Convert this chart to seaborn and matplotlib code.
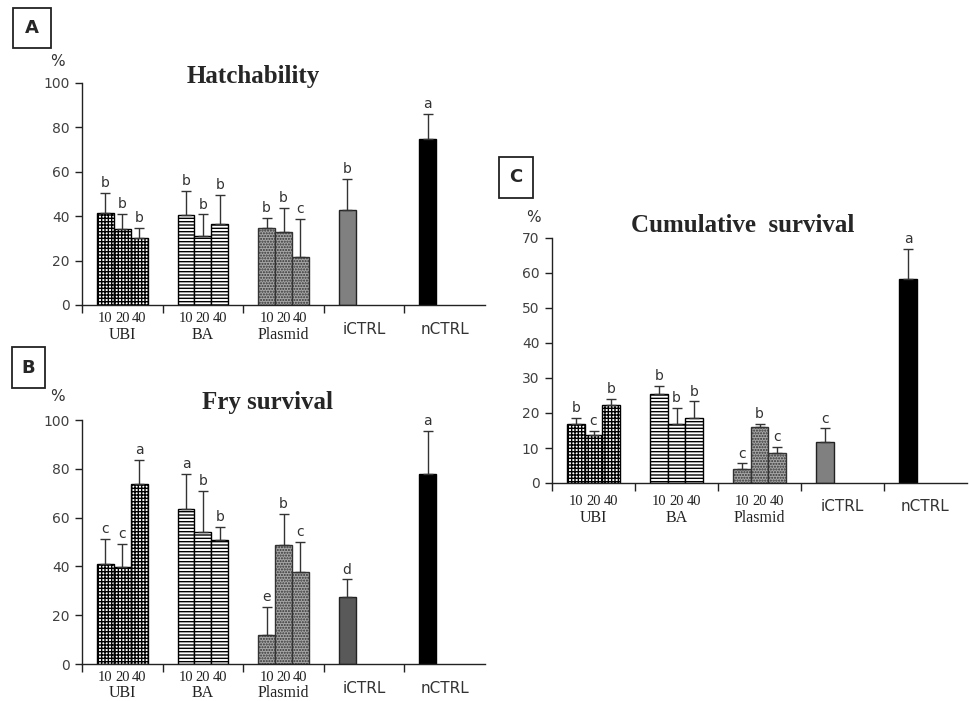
import matplotlib.pyplot as plt
import matplotlib.patches as mpatches
import numpy as np
import pandas as pd
import seaborn as sns

groups = ["UBI", "BA", "Plasmid", "iCTRL", "nCTRL"]
doses = ["10", "20", "40"]

# one entry per bar: UBI 10/20/40, BA 10/20/40, Plasmid 10/20/40, iCTRL, nCTRL
bar_group = ["UBI"] * 3 + ["BA"] * 3 + ["Plasmid"] * 3 + ["iCTRL", "nCTRL"]
bar_dose = doses * 3 + ["10", "10"]

hatch_mean = [41.6, 34.2, 30.3, 40.4, 31.2, 36.5, 34.6, 33.0, 21.6, 42.8, 74.6]
hatch_sd = [9.0, 6.8, 4.5, 10.9, 9.6, 13.0, 4.6, 10.8, 17.2, 14.0, 11.4]
hatch_sig = ["b", "b", "b", "b", "b", "b", "b", "b", "c", "b", "a"]

fry_mean = [40.9, 39.8, 73.8, 63.4, 54.2, 51.0, 11.9, 48.6, 37.8, 27.3, 78.0]
fry_sd = [10.5, 9.3, 9.8, 14.5, 16.8, 5.3, 11.4, 12.9, 12.2, 7.4, 17.5]
fry_sig = ["c", "c", "a", "a", "b", "b", "e", "b", "c", "d", "a"]

cum_mean = [16.9, 13.6, 22.2, 25.4, 17.0, 18.6, 4.1, 16.0, 8.5, 11.7, 58.2]
cum_sd = [1.7, 1.4, 1.8, 2.4, 4.4, 4.7, 1.5, 1.0, 1.8, 3.9, 8.7]
cum_sig = ["b", "c", "b", "b", "b", "b", "c", "b", "c", "c", "a"]

W, H = 969, 701
BAR_W = 0.63

sns.set_style("ticks")
plt.rcParams["font.family"] = ["DejaVu Sans"]
plt.rcParams["hatch.linewidth"] = 1.0

fig = plt.figure(figsize=(W / 100, H / 100), dpi=100)


def px_axes(left, right, top, bottom):
    return fig.add_axes([left / W, 1 - bottom / H, (right - left) / W, (bottom - top) / H])


def bar_style(group, ictrl_color):
    if group == "UBI":
        return dict(facecolor="white", edgecolor="black", hatch="+++++")
    if group == "BA":
        return dict(facecolor="white", edgecolor="black", hatch="-----")
    if group == "Plasmid":
        return dict(facecolor="#a6a6a6", edgecolor="#333333", hatch="......")
    if group == "iCTRL":
        return dict(facecolor=ictrl_color, edgecolor="#222222", hatch=None)
    return dict(facecolor="black", edgecolor="black", hatch=None)


def draw_panel(ax, means, sds, sig, ymax, ystep, ictrl_color, lab_off):
    df = pd.DataFrame({"group": bar_group, "dose": bar_dose, "value": means})
    sns.barplot(data=df, x="group", y="value", hue="dose", order=groups,
                hue_order=doses, width=BAR_W, gap=0, dodge=True,
                errorbar=None, legend=False, ax=ax)

    lookup = {(g, d): i for i, (g, d) in enumerate(zip(bar_group, bar_dose))}
    slot = BAR_W / 3
    xs, ys, es = [], [], []
    for p in ax.patches:
        xc = p.get_x() + p.get_width() / 2
        gi = int(round(xc))
        di = int(round((xc - gi) / slot)) + 1
        key = (groups[gi], doses[di])
        if key not in lookup or p.get_height() == 0:
            continue
        i = lookup[key]
        st = bar_style(groups[gi], ictrl_color)
        p.set_facecolor(st["facecolor"])
        p.set_edgecolor(st["edgecolor"])
        p.set_hatch(st["hatch"])
        p.set_linewidth(1.0)
        xs.append(xc)
        ys.append(means[i])
        es.append(sds[i])
        ax.annotate(sig[i], (xc, means[i] + sds[i]), xytext=(0, 2),
                    textcoords="offset points", ha="center", va="bottom",
                    fontsize=10, color="#333333")
        if groups[gi] not in ("iCTRL", "nCTRL"):
            ax.annotate(doses[di], (xc, 0), xycoords=("data", "axes fraction"),
                        xytext=(0, -lab_off[0]), textcoords="offset points",
                        ha="center", va="center", fontsize=10.5,
                        family="Liberation Serif", color="#222222")

    ax.errorbar(xs, ys, yerr=[np.zeros(len(es)), es], fmt="none",
                ecolor="#333333", elinewidth=1.0, capsize=3.5, capthick=1.0)

    for gi, g in enumerate(groups):
        if g in ("iCTRL", "nCTRL"):
            ax.annotate(g, (gi, 0), xycoords=("data", "axes fraction"),
                        xytext=(0, -lab_off[2]), textcoords="offset points",
                        ha="center", va="center", fontsize=11, color="#333333")
        else:
            ax.annotate(g, (gi, 0), xycoords=("data", "axes fraction"),
                        xytext=(0, -lab_off[1]), textcoords="offset points",
                        ha="center", va="center", fontsize=11.5,
                        family="Liberation Serif", color="#222222")

    ax.set_xlim(-0.5, 4.5)
    ax.set_ylim(0, ymax)
    ax.set_yticks(np.arange(0, ymax + 1, ystep))
    ax.set_xticks([-0.5, 0.5, 1.5, 2.5, 3.5])
    ax.set_xticklabels([])
    ax.set_xlabel("")
    ax.set_ylabel("")
    ax.tick_params(axis="y", labelsize=10, labelcolor="#404040", length=5,
                   width=1, color="#222222", pad=4)
    ax.tick_params(axis="x", length=6, width=1, color="#222222")
    for s in ("top", "right"):
        ax.spines[s].set_visible(False)
    for s in ("left", "bottom"):
        ax.spines[s].set_color("#222222")
        ax.spines[s].set_linewidth(1.0)
    ax.patch.set_alpha(0)


def panel_box(letter, left, top, right, bottom):
    rect = mpatches.Rectangle((left / W, 1 - bottom / H), (right - left) / W,
                              (bottom - top) / H, transform=fig.transFigure,
                              facecolor="white", edgecolor="#222222", linewidth=1.3)
    fig.add_artist(rect)
    fig.text((left + right) / 2 / W, 1 - (top + bottom) / 2 / H, letter,
             ha="center", va="center", fontsize=13, fontweight="bold")


def fig_text(x, y, s, **kw):
    fig.text(x / W, 1 - y / H, s, ha="center", va="center", **kw)


ax_a = px_axes(82, 485, 83, 305)
draw_panel(ax_a, hatch_mean, hatch_sd, hatch_sig, 100, 20, "#808080", (9.5, 21.5, 18))

ax_b = px_axes(82, 485, 420, 664)
draw_panel(ax_b, fry_mean, fry_sd, fry_sig, 100, 20, "#595959", (10, 21, 17.5))

ax_c = px_axes(552, 967, 238, 483)
draw_panel(ax_c, cum_mean, cum_sd, cum_sig, 70, 10, "#808080", (13.5, 25, 17))

title_kw = dict(fontsize=18, fontweight="bold", family="Liberation Serif")
fig_text(253, 76, "Hatchability", **title_kw)
fig_text(267, 402, "Fry survival", **title_kw)
fig_text(743, 226, "Cumulative  survival", **title_kw)

pct_kw = dict(fontsize=11, color="#333333")
fig_text(57, 61, "%", **pct_kw)
fig_text(57, 397, "%", **pct_kw)
fig_text(533, 217, "%", **pct_kw)

panel_box("A", 13, 8, 51, 48)
panel_box("B", 12, 347, 45, 388)
panel_box("C", 499, 157, 533, 198)

fig.savefig("out.png", dpi=100)
